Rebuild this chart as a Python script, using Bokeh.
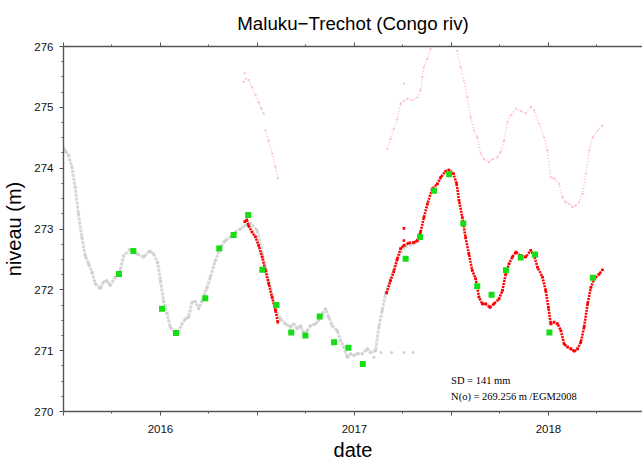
import numpy as np
from bokeh.plotting import figure
from bokeh.models import Range1d, LinearAxis, FixedTicker, CustomJSTickFormatter, Label, Title, Grid
from bokeh.embed import file_html
from bokeh.resources import INLINE

# ---- data (decimal year, water level in m) ----
gray_t = [2015.500, 2015.510, 2015.526, 2015.543, 2015.560, 2015.577, 2015.595, 2015.612, 2015.629,
          2015.647, 2015.664, 2015.690, 2015.706, 2015.724, 2015.741, 2015.767, 2015.793, 2015.810,
          2015.844, 2015.879, 2015.913, 2015.944, 2015.964, 2015.985, 2016.000, 2016.016, 2016.034,
          2016.050, 2016.076, 2016.093, 2016.110, 2016.128, 2016.145, 2016.163, 2016.180, 2016.197,
          2016.214, 2016.240, 2016.257, 2016.283, 2016.309, 2016.334, 2016.360, 2016.386, 2016.412,
          2016.438, 2016.464, 2016.498, 2016.524, 2016.558, 2016.593, 2016.618, 2016.644, 2016.670,
          2016.687, 2016.705, 2016.722, 2016.739, 2016.756, 2016.773, 2016.799, 2016.816, 2016.834,
          2016.851, 2016.868, 2016.885, 2016.911, 2016.928, 2016.945, 2016.963, 2016.980, 2016.997,
          2017.014, 2017.040, 2017.066, 2017.083, 2017.109, 2017.126, 2017.143, 2017.160, 2017.186,
          2017.220, 2017.255, 2017.300, 2017.330]
gray_v = [274.33, 274.28, 274.21, 274.02, 273.69, 273.25, 272.86, 272.56, 272.43,
          272.29, 272.10, 272.02, 272.13, 272.15, 272.07, 272.21, 272.32, 272.56,
          272.67, 272.59, 272.54, 272.64, 272.59, 272.45, 272.15, 271.82, 271.61,
          271.39, 271.27, 271.30, 271.44, 271.52, 271.55, 271.80, 271.81, 271.69,
          271.82, 272.04, 272.21, 272.48, 272.70, 272.81, 272.87, 272.95, 273.00,
          273.06, 273.09, 272.98, 272.60, 272.15, 271.70, 271.52, 271.44, 271.39,
          271.44, 271.36, 271.41, 271.28, 271.33, 271.41, 271.44, 271.50, 271.61,
          271.69, 271.55, 271.41, 271.33, 271.17, 271.06, 270.89, 270.95, 270.92,
          270.95, 270.95, 271.03, 270.97, 271.00, 271.39, 271.66, 271.93, 272.18,
          272.50, 272.70, 272.75, 272.80]
gray_out_t = [2017.100, 2017.137, 2017.192, 2017.255, 2017.302]
gray_out_v = [270.89, 270.97, 270.97, 270.97, 270.97]

red_t = [2016.434, 2016.445, 2016.455, 2016.472, 2016.489, 2016.506, 2016.524, 2016.541, 2016.558,
         2016.575, 2016.593, 2016.605, np.nan,
         2017.166, 2017.186, 2017.203, 2017.220, 2017.238, 2017.255, 2017.281, 2017.307, 2017.324,
         2017.341, 2017.358, 2017.376, 2017.401, 2017.427, 2017.445, 2017.470, 2017.487, 2017.510,
         2017.527, 2017.539, 2017.556, 2017.573, 2017.590, 2017.607, 2017.625, 2017.642, 2017.659,
         2017.676, 2017.699, 2017.719, 2017.745, 2017.763, 2017.780, 2017.797, 2017.814, 2017.832,
         2017.857, 2017.883, 2017.909, 2017.926, 2017.944, 2017.969, 2017.986, 2018.000, 2018.012,
         2018.029, 2018.047, 2018.064, 2018.081, 2018.099, 2018.116, 2018.133, 2018.150, 2018.167,
         2018.184, 2018.202, 2018.219, 2018.236, 2018.262, 2018.279]
red_v = [273.12, 273.15, 273.05, 272.95, 272.87, 272.73, 272.54, 272.32, 272.10,
         271.88, 271.66, 271.47, np.nan,
         271.95, 272.15, 272.30, 272.50, 272.68, 272.73, 272.77, 272.78, 272.81,
         272.95, 273.19, 273.41, 273.66, 273.74, 273.85, 273.95, 273.97, 273.91,
         273.74, 273.47, 273.19, 272.86, 272.59, 272.32, 272.18, 271.88, 271.77,
         271.77, 271.71, 271.77, 271.85, 271.99, 272.26, 272.43, 272.54, 272.62,
         272.56, 272.54, 272.65, 272.56, 272.37, 272.21, 271.99, 271.71, 271.44,
         271.47, 271.44, 271.33, 271.11, 271.06, 271.03, 270.99, 271.03, 271.14,
         271.39, 271.77, 272.04, 272.18, 272.26, 272.33]
red_out_t = [2017.255, 2017.255]
red_out_v = [273.01, 272.81]

pink_t = [2016.428, 2016.440, 2016.455, 2016.472, 2016.490, 2016.507, 2016.520, 2016.533, np.nan,
          2016.541, 2016.558, 2016.576, 2016.593, 2016.605, np.nan,
          2017.169, 2017.186, 2017.203, 2017.220, 2017.238, 2017.255, 2017.272, 2017.298, 2017.324,
          2017.341, 2017.350, 2017.358, 2017.375, 2017.393, np.nan,
          2017.530, 2017.547, 2017.564, 2017.582, 2017.599, 2017.616, 2017.633, 2017.651, 2017.668,
          2017.694, 2017.711, 2017.737, 2017.754, 2017.771, 2017.789, 2017.806, 2017.832, 2017.858,
          2017.884, 2017.909, 2017.927, 2017.953, 2017.977, 2017.995, 2018.012, 2018.029, 2018.055,
          2018.072, 2018.089, 2018.107, 2018.124, 2018.141, 2018.158, 2018.176, 2018.193, 2018.210,
          2018.228, 2018.253, 2018.279]
pink_v = [275.42, 275.47, 275.45, 275.33, 275.20, 275.08, 274.98, 274.89, np.nan,
          274.62, 274.45, 274.24, 274.02, 273.83, np.nan,
          274.32, 274.48, 274.65, 274.80, 275.06, 275.11, 275.14, 275.12, 275.16,
          275.28, 275.50, 275.66, 275.80, 275.96, np.nan,
          275.93, 275.66, 275.44, 275.17, 274.84, 274.62, 274.51, 274.24, 274.15,
          274.10, 274.15, 274.18, 274.26, 274.45, 274.76, 274.87, 274.98, 274.94,
          274.90, 275.01, 274.95, 274.73, 274.51, 274.29, 273.85, 273.83, 273.74,
          273.52, 273.44, 273.41, 273.36, 273.39, 273.44, 273.58, 273.91, 274.29,
          274.51, 274.62, 274.70]
pink_out_t = [2016.434, 2017.255]
pink_out_v = [275.56, 275.39]

green_t = [2015.786, 2015.860, 2016.008, 2016.080, 2016.231, 2016.303, 2016.377, 2016.452,
           2016.525, 2016.598, 2016.674, 2016.747, 2016.821, 2016.895, 2016.969, 2017.043,
           2017.264, 2017.338, 2017.410, 2017.488, 2017.561, 2017.633, 2017.707, 2017.781,
           2017.857, 2017.931, 2018.005, 2018.229]
green_v = [272.26, 272.64, 271.69, 271.29, 271.86, 272.68, 272.90, 273.23,
           272.33, 271.75, 271.30, 271.25, 271.56, 271.14, 271.05, 270.78,
           272.51, 272.87, 273.63, 273.90, 273.09, 272.06, 271.92, 272.32,
           272.53, 272.58, 271.30, 272.20]

x_major = [2015.5, 2016.0, 2016.5, 2017.0, 2017.5, 2018.0]
x_minor = [2015.75, 2016.25, 2016.75, 2017.25, 2017.75, 2018.25]
y_major = [270, 271, 272, 273, 274, 275, 276]
y_minor = [270.25, 270.5, 270.75, 271.25, 271.5, 271.75, 272.25, 272.5, 272.75,
           273.25, 273.5, 273.75, 274.25, 274.5, 274.75, 275.25, 275.5, 275.75]

title_text = "Maluku\u2212Trechot (Congo riv)"
note1 = "SD = 141 mm"
note2 = "N(o) = 269.256 m /EGM2008"

FONT = "Liberation Sans"
AX = "#555555"

p = figure(width=642, height=466, output_backend="svg", toolbar_location=None,
           x_range=Range1d(2015.5, 2018.485), y_range=Range1d(270, 276),
           x_axis_location=None, y_axis_location=None,
           min_border_left=63, min_border_right=0, min_border_top=46, min_border_bottom=55)
p.outline_line_color = None
p.background_fill_color = "white"
p.border_fill_color = "white"
for g in p.select(type=Grid):
    g.visible = False

def style_axis(ax, label_size="11.5px"):
    ax.axis_line_color = AX
    ax.axis_line_width = 1.4
    ax.major_tick_line_color = AX
    ax.minor_tick_line_color = AX
    ax.major_tick_in = 0
    ax.minor_tick_in = 0
    ax.major_tick_out = 4
    ax.minor_tick_out = 2
    ax.major_label_text_font = FONT
    ax.major_label_text_font_size = label_size
    ax.major_label_text_color = "#111111"
    ax.axis_label_text_font = FONT
    ax.axis_label_text_font_style = "normal"
    ax.axis_label_text_font_size = "20px"
    ax.axis_label_text_color = "black"

# top axis (ticks only), nearest to the frame
xa = LinearAxis(ticker=FixedTicker(ticks=x_major, minor_ticks=x_minor),
                formatter=CustomJSTickFormatter(code="return '';"))
style_axis(xa, label_size="1px")
xa.major_label_standoff = 0
p.add_layout(xa, "above")

t = Title(text=title_text, align="center", text_font=FONT, text_font_size="18.7px",
          text_font_style="normal", text_color="black", standoff=18)
p.add_layout(t, "above")

xfmt = CustomJSTickFormatter(code="return Math.abs(tick - Math.round(tick)) < 1e-6 ? tick.toFixed(0) : '';")
xb = LinearAxis(ticker=FixedTicker(ticks=x_major, minor_ticks=x_minor), formatter=xfmt,
                axis_label="date")
style_axis(xb)
xb.major_label_standoff = 9
xb.axis_label_standoff = 3
p.add_layout(xb, "below")

yl = LinearAxis(ticker=FixedTicker(ticks=y_major, minor_ticks=y_minor), axis_label="niveau (m)")
style_axis(yl)
yl.major_label_standoff = 6
yl.axis_label_standoff = 6
p.add_layout(yl, "left")

# series
p.line(gray_t, gray_v, line_color="#d6d6d6", line_width=3, line_dash="3 1")
p.scatter(gray_t, gray_v, marker="circle", size=3, fill_color="#d0d0d0", line_color=None)
p.scatter(gray_out_t, gray_out_v, marker="circle", size=3, fill_color="#d0d0d0", line_color=None)

p.line(pink_t, pink_v, line_color="#ffb6c1", line_width=1.4, line_dash="1 2")
p.scatter(pink_t, pink_v, marker="circle", size=2, fill_color="#ffb6c1", line_color=None)
p.scatter(pink_out_t, pink_out_v, marker="circle", size=2, fill_color="#ffb6c1", line_color=None)

p.line(red_t, red_v, line_color="#ff0000", line_width=2.6, line_dash="2 1")
p.scatter(red_t, red_v, marker="square", size=2.6, fill_color="#ff0000", line_color=None)
p.scatter(red_out_t, red_out_v, marker="square", size=2.6, fill_color="#ff0000", line_color=None)

p.scatter(green_t, green_v, marker="square", size=6, fill_color="#16dd16", line_color=None)

p.add_layout(Label(x=2017.498, y=270.511, text=note1, text_align="left", text_baseline="alphabetic",
                   text_font="Liberation Serif", text_font_size="10.5px", text_color="black"))
p.add_layout(Label(x=2017.498, y=270.240, text=note2, text_align="left", text_baseline="alphabetic",
                   text_font="Liberation Serif", text_font_size="10.5px", text_color="black"))

open("out.html", "w").write(file_html(p, INLINE))
